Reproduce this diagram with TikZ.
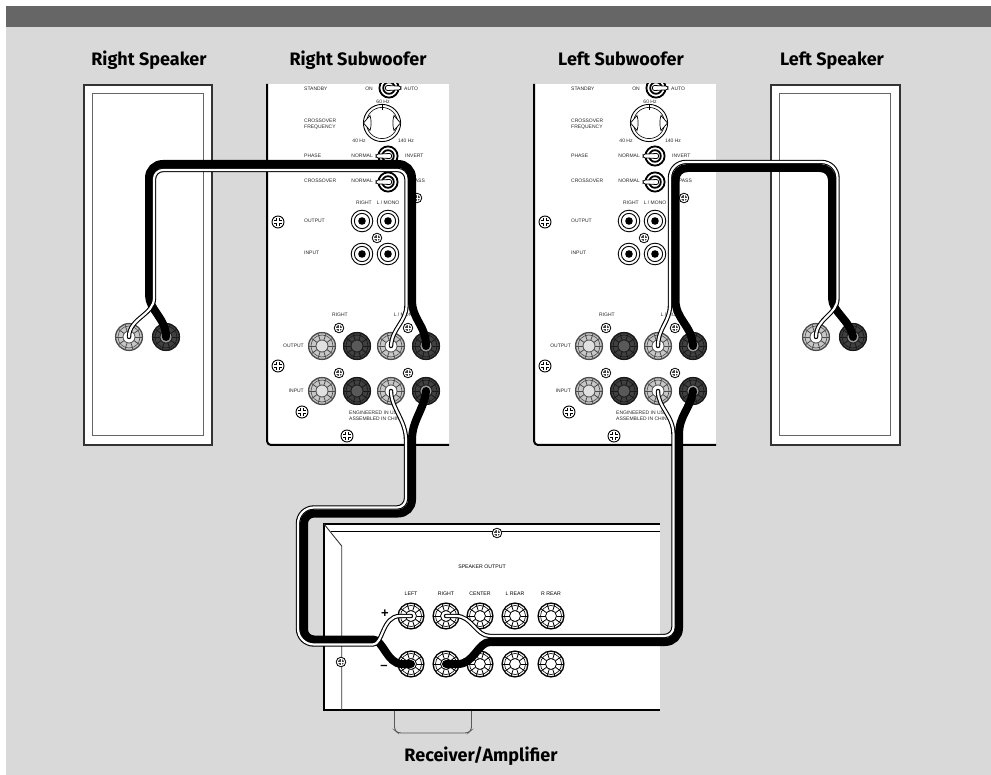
\documentclass[tikz,border=0pt]{standalone}
\usepackage{fontspec}
\setmainfont{Liberation Sans}
\newfontfamily\titlefont{Fira Sans}
\definecolor{bgray}{HTML}{D9D9D9}
\definecolor{hgray}{HTML}{666666}
\tikzset{
  lbl/.style={inner sep=0pt,font=\fontsize{5}{6}\selectfont,text=black!85},
  amplbl/.style={inner sep=0pt,font=\fontsize{5.2}{6}\selectfont,text=black},
  ttl/.style={inner sep=0pt,anchor=base,font=\titlefont\bfseries\fontsize{18}{20}\selectfont,text=black},
  thickwire/.style={draw=black,line width=8pt,line cap=round,line join=round},
  whitewire/.style={draw=black,line width=1.1pt,double=white,double distance=2.2pt,line cap=round,line join=round},
  spk/.style={draw=black!80,fill=white,line width=1.5pt},
  spkin/.style={draw=black!60,line width=1pt}
}
% binding post: name,x,y,fill,line,centre,radius
\newcommand{\bpost}[7]{%
  \coordinate (#1) at (#2,#3);
  \begin{scope}[shift={(#1)}]
    \fill[#4] (0,0) circle (#7);
    \draw[#5,line width=1.3pt] (0,0) circle (#7-0.6);
    \draw[#5,line width=0.6pt] (0,0) circle (#7-3);
    \foreach \ang in {0,36,...,324}{
      \draw[#5,line width=0.8pt] (\ang:#7-8) -- (\ang:#7-1);
    }
    \foreach \ang in {18,54,...,342}{
      \fill[#4] (\ang:#7-5.8) circle (1.1);
    }
    \draw[#5,fill=#6,line width=0.8pt] (0,0) circle (#7-8);
  \end{scope}}
\newcommand{\crossscrew}[2]{%
  \begin{scope}[shift={(#1,#2)}]
    \draw[black,fill=white,line width=0.9pt] (0,0) circle (6);
    \draw[black,line width=3.8pt] (-3.6,0) -- (3.6,0) (0,-3.6) -- (0,3.6);
    \draw[white,line width=2pt] (-3.6,0) -- (3.6,0) (0,-3.6) -- (0,3.6);
  \end{scope}}
\newcommand{\tinyscrew}[2]{%
  \begin{scope}[shift={(#1,#2)}]
    \draw[black,fill=white,line width=0.8pt] (0,0) circle (4.8);
    \fill[black!75] (0,0) circle (3);
    \draw[white,line width=0.7pt] (-3,0) -- (3,0) (0,-3) -- (0,3);
  \end{scope}}
\newcommand{\rca}[2]{%
  \begin{scope}[shift={(#1,#2)}]
    \draw[black,fill=white,line width=0.9pt] (0,0) circle (10.8);
    \draw[black,line width=0.9pt] (0,0) circle (7.6);
    \fill[black] (0,0) circle (3.8);
  \end{scope}}
% switch: x,y,direction of lever (+1 right, -1 left)
\newcommand{\toggle}[3]{%
  \begin{scope}[shift={(#1,#2)}]
    \draw[black,fill=white,line width=1.8pt] (0,0) circle (9.6);
    \draw[black,line width=1.8pt] (0,0) circle (5.8);
    \draw[black,fill=white,line width=0.8pt,rounded corners=2pt] (-#3*3.5,-2.6) -- (#3*12,-1.8) -- (#3*12,1.8) -- (-#3*3.5,2.6) -- cycle;
  \end{scope}}
% subwoofer panel: prefix,x offset
\newcommand{\subpanel}[2]{%
  \begin{scope}[xshift=#2pt]
    \fill[white] (267,84) rectangle (449,445);
    \draw[black,line width=2pt,rounded corners=4pt] (267,84) -- (267,445) -- (449,445);
    \begin{scope}
      \clip (267,84) rectangle (449,445);
      \toggle{389}{88}{1}
    \end{scope}
    \node[lbl,anchor=west] (#1stb) at (304,89) {STANDBY};
    \node[lbl,anchor=east] (#1on) at (373,89) {ON};
    \node[lbl,anchor=west] (#1auto) at (404,89) {AUTO};
    \node[lbl] (#1hza) at (383,102) {60 Hz};
    \node[lbl,anchor=west] (#1cfa) at (304,121) {CROSSOVER};
    \node[lbl,anchor=west] (#1cfb) at (304,127) {FREQUENCY};
    \begin{scope}[shift={(382,123)}]
      \draw[black,line width=0.9pt] (0,0) circle (18.6);
      \draw[black,line width=0.6pt] (0,0) circle (15.6);
      \draw[black,line width=0.9pt] (0,-18) -- (0,-13);
      \draw[black,fill=white,line width=0.7pt] (-18.5,0) -- (-12,-7.5) .. controls (-10.5,-3) and (-10.5,3) .. (-12,7.5) -- cycle;
      \draw[black,fill=white,line width=0.7pt] (18.5,0) -- (12,-7.5) .. controls (10.5,-3) and (10.5,3) .. (12,7.5) -- cycle;
    \end{scope}
    \node[lbl] (#1hzb) at (359,141) {40 Hz};
    \node[lbl] (#1hzc) at (406,141) {140 Hz};
    \node[lbl,anchor=west] (#1ph) at (304,156) {PHASE};
    \node[lbl,anchor=east] (#1nm) at (373,156) {NORMAL};
    \node[lbl,anchor=west] (#1inv) at (405,156) {INVERT};
    \toggle{388}{156}{-1}
    \node[lbl,anchor=west] (#1cr) at (304,181) {CROSSOVER};
    \node[lbl,anchor=east] (#1nmb) at (373,181) {NORMAL};
    \node[lbl,anchor=west] (#1byp) at (405,181) {BYPASS};
    \toggle{388}{182}{-1}
    \tinyscrew{417}{198}
    \node[lbl] (#1rg) at (364,203) {RIGHT};
    \node[lbl] (#1lm) at (388,203) {L / MONO};
    \node[lbl,anchor=west] (#1ot) at (304,221) {OUTPUT};
    \node[lbl,anchor=west] (#1in) at (304,253) {INPUT};
    \crossscrew{278}{222}
    \rca{362}{221}\rca{388}{221}\rca{362}{254}\rca{388}{254}
    \tinyscrew{377}{238}
    \node[lbl] (#1rgb) at (340,315) {RIGHT};
    \node[lbl] (#1lmb) at (405,315) {L / MONO};
    \tinyscrew{339}{328}\tinyscrew{408}{328}\tinyscrew{339}{373}\tinyscrew{408}{373}
    \node[lbl,anchor=east] (#1otb) at (304,346) {OUTPUT};
    \node[lbl,anchor=east] (#1inb) at (304,391) {INPUT};
    \crossscrew{278}{366}\crossscrew{302}{412}\crossscrew{347}{436}
    \node[lbl,anchor=west] (#1eng) at (349,413) {ENGINEERED IN USA};
    \node[lbl,anchor=west] (#1asm) at (349,419) {ASSEMBLED IN CHINA};
    \bpost{#1a}{322}{346}{black!22}{black!70}{black!12}{14}
    \bpost{#1b}{357}{346}{black!75}{black!90}{black!65}{14}
    \bpost{#1c}{391}{346}{black!22}{black!70}{white}{14}
    \bpost{#1d}{426}{346}{black!75}{black!90}{black!40}{14}
    \bpost{#1e}{322}{391}{black!22}{black!70}{black!12}{14}
    \bpost{#1f}{357}{391}{black!75}{black!90}{black!65}{14}
    \bpost{#1g}{391}{391}{black!22}{black!70}{white}{14}
    \bpost{#1h}{426}{391}{black!75}{black!90}{black!40}{14}
  \end{scope}}
\begin{document}
\begin{tikzpicture}[x=1pt,y=-1pt]
\useasboundingbox (0,0) rectangle (991,775);
\fill[white] (0,0) rectangle (991,775);
\fill[bgray] (6,27) rectangle (991,775);
\fill[hgray] (6,6) rectangle (991,27);
% titles
\node[ttl] (t1) at (149,66) {Right Speaker};
\node[ttl] (t2) at (358,66) {Right Subwoofer};
\node[ttl] (t3) at (621,66) {Left Subwoofer};
\node[ttl] (t4) at (832,66) {Left Speaker};
\node[ttl] (t5) at (481,761) {Receiver/Amplifier};
% speakers
\draw[spk] (84,85) rectangle (212,445);
\draw[spkin] (92,94) rectangle (203,436);
\draw[spk] (771,85) rectangle (900,445);
\draw[spkin] (779,94) rectangle (890,436);
\bpost{ra}{129}{337}{black!22}{black!70}{white}{14}
\bpost{rb}{166}{337}{black!75}{black!90}{black!40}{14}
\bpost{la}{816}{337}{black!22}{black!70}{white}{14}
\bpost{lb}{853}{337}{black!75}{black!90}{black!40}{14}
% subwoofers
\subpanel{R}{0}
\subpanel{L}{267}
% amplifier
\draw[black!65,line width=0.9pt,rounded corners=3pt] (394.5,710) -- (394.5,730) -- (398,733) -- (468,733) -- (471.5,730) -- (471.5,710);
\fill[white] (324,524) rectangle (660,710);
\draw[black,line width=2pt] (660,524) -- (324,524) -- (324,710) -- (660,710);
\draw[black,line width=1pt] (331,531) -- (660,531);
\draw[black!80,line width=0.9pt] (324,524) -- (341.7,546) -- (341.7,710);
\tinyscrew{497}{533}
\tinyscrew{341}{662}
\node[amplbl] (so) at (482,567) {SPEAKER OUTPUT};
\node[amplbl] (al) at (411,594) {LEFT};
\node[amplbl] (ar) at (446,594) {RIGHT};
\node[amplbl] (ac) at (480,594) {CENTER};
\node[amplbl] (ad) at (515,594) {L REAR};
\node[amplbl] (ae) at (551,594) {R REAR};
\node[inner sep=0pt,font=\bfseries\fontsize{13}{14}\selectfont] (plus) at (385,614) {+};
\node[inner sep=0pt,font=\bfseries\fontsize{13}{14}\selectfont] (minus) at (384,667) {–};
\foreach \nm/\px in {a/411,b/446,c/480,d/515,e/551}{
  \bpost{u\nm}{\px}{616}{white}{black}{white}{13.5}
  \bpost{v\nm}{\px}{664}{white}{black}{white}{13.5}
}
% cables: right speaker to right subwoofer output
\draw[thickwire] (rb) .. controls (166,318) and (149,310) .. (149,295) -- (149,178) .. controls (149,170) and (155,164) .. (163,164) -- (398,164) .. controls (406,164) and (412,170) .. (412,178) -- (412,300) .. controls (412,320) and (426,325) .. (Rd);
\draw[whitewire] (ra) .. controls (129,318) and (154,315) .. (154,298) -- (154,179) .. controls (154,174) and (158,170) .. (163,170) -- (397.5,170) .. controls (402.5,170) and (406.5,174) .. (406.5,179) -- (406.5,305) .. controls (406.5,322) and (392,328) .. (Rc);
% left speaker to left subwoofer output
\draw[thickwire] (lb) .. controls (850,320) and (832,312) .. (832,298) -- (832,180) .. controls (832,173) and (827,168) .. (820,168) -- (687.5,168) .. controls (680.5,168) and (675.5,173) .. (675.5,180) -- (675.5,300) .. controls (675.5,320) and (692,325) .. (Ld);
\draw[whitewire] (la) .. controls (816,318) and (837.5,315) .. (837.5,298) -- (837.5,178) .. controls (837.5,169) and (830.5,162) .. (821.5,162) -- (686,162) .. controls (677,162) and (670,169) .. (670,178) -- (670,305) .. controls (670,322) and (658,328) .. (Lc);
% right subwoofer input to amplifier left
\draw[thickwire] (Rh) .. controls (424,410) and (412,420) .. (412,440) -- (412,499.5) .. controls (412,507.5) and (406,513.5) .. (398,513.5) -- (314,513.5) .. controls (308.5,513.5) and (304,518) .. (304,523.5) -- (304,629.5) .. controls (304,635) and (308.5,639.5) .. (314,639.5) -- (373,639.5) .. controls (383,639.5) and (387,664) .. (402,664) -- (va);
\draw[whitewire] (Rg) .. controls (391,408) and (406,420) .. (406,440) -- (406,498.5) .. controls (406,503.5) and (402,507.5) .. (397,507.5) -- (314,507.5) .. controls (305,507.5) and (298,514.5) .. (298,523.5) -- (298,628.5) .. controls (298,637.5) and (305,644.5) .. (314,644.5) -- (373,644.5) .. controls (383,644.5) and (382,616) .. (400,616) -- (ua);
% left subwoofer input to amplifier right
\draw[thickwire] (Lh) .. controls (690,410) and (679,415) .. (679,435) -- (679,628) .. controls (679,636) and (673,642) .. (665,642) -- (490,642) .. controls (478,642) and (474,664) .. (458,664) -- (vb);
\draw[whitewire] (Lg) .. controls (658,408) and (673.5,415) .. (673.5,435) -- (673.5,627) .. controls (673.5,632) and (669.5,636) .. (664.5,636) -- (490,636) .. controls (476,636) and (472,616) .. (456,616) -- (ub);
\end{tikzpicture}
\end{document}
